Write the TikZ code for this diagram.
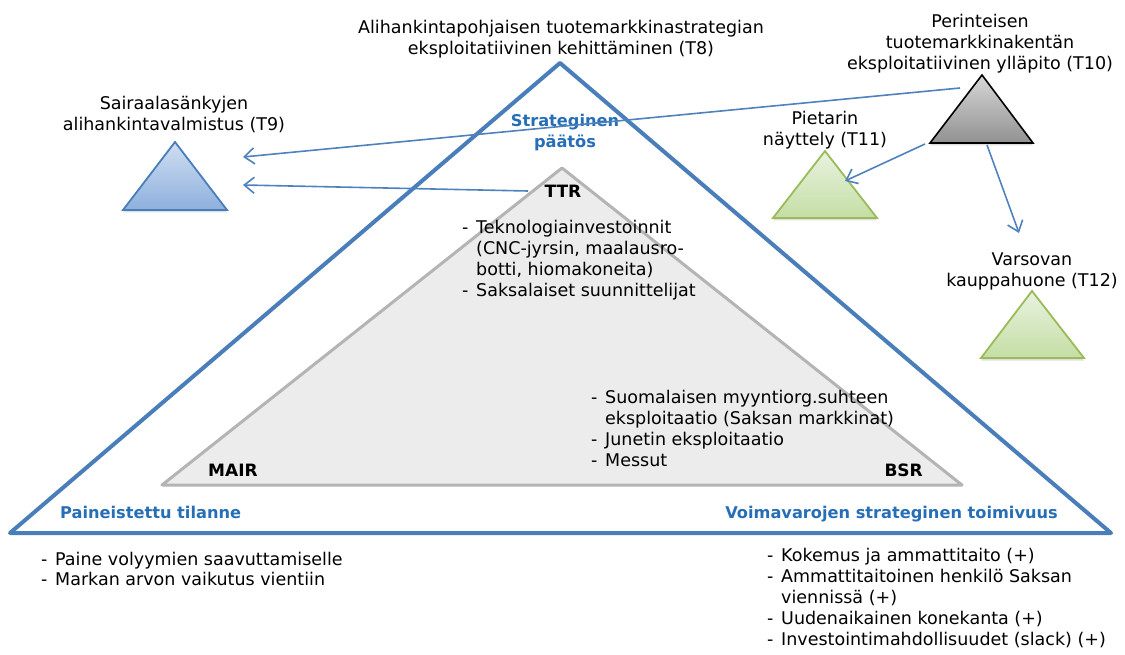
\documentclass[tikz,border=0pt]{standalone}
\usepackage{fontspec}
\setmainfont{DejaVu Sans}
\usetikzlibrary{arrows.meta,shadows}

\definecolor{frameblue}{RGB}{74,126,187}
\definecolor{labelblue}{RGB}{38,110,182}
\definecolor{linkblue}{RGB}{79,129,189}
\definecolor{innerfill}{RGB}{236,236,236}
\definecolor{innerline}{RGB}{180,180,180}
\definecolor{greenline}{RGB}{155,187,89}
\definecolor{greentop}{RGB}{232,242,224}
\definecolor{greenbot}{RGB}{196,222,164}
\definecolor{bluetop}{RGB}{208,222,241}
\definecolor{bluebot}{RGB}{141,176,221}
\definecolor{greytop}{RGB}{215,215,215}
\definecolor{greybot}{RGB}{145,145,145}

% list helpers: dash with hanging indent
\newcommand{\lidash}{\makebox[14pt][l]{-}}
\newcommand{\liskip}{\hspace*{14pt}}

\tikzset{
  bodytext/.style={inner sep=0pt, font=\fontsize{17.5}{21}\selectfont},
  boldtag/.style={inner sep=0pt, font=\fontsize{17}{21}\selectfont\bfseries},
  bluetag/.style={inner sep=0pt, text=labelblue, font=\fontsize{16.2}{21}\selectfont\bfseries},
  listtext/.style={bodytext, align=left, anchor=north west},
  caption/.style={bodytext, align=center, anchor=north},
  link/.style={draw=linkblue, line width=1.6pt, -{Straight Barb[length=10pt,width=16pt,line width=1.6pt]}},
  softshadow/.style={drop shadow={opacity=0.25, shadow xshift=0pt, shadow yshift=-2.5pt}},
  greentri/.style={softshadow, draw=greenline, line width=1.8pt, top color=greentop, bottom color=greenbot},
  bluetri/.style={softshadow, draw=frameblue, line width=1.8pt, top color=bluetop, bottom color=bluebot},
  greytri/.style={softshadow, draw=black, line width=1.6pt, top color=greytop, bottom color=greybot},
}

\begin{document}
\begin{tikzpicture}[x=1pt, y=-1pt]
\useasboundingbox (0,0) rectangle (1125,655);

% outer strategy triangle
\coordinate (OA) at (560,63);
\coordinate (OL) at (10,533);
\coordinate (OR) at (1111,533);
\draw[frameblue, line width=4pt, line join=round] (OA) -- (OR) -- (OL) -- cycle;

% inner resource triangle
\coordinate (IA) at (562,168);
\coordinate (IL) at (162,485);
\coordinate (IR) at (962,485);
\draw[draw=innerline, fill=innerfill, line width=3pt, line join=round] (IA) -- (IR) -- (IL) -- cycle;

% small strategy triangles
\coordinate (T9a) at (175,142);
\coordinate (T9l) at (123,210);
\coordinate (T9r) at (227,210);
\draw[bluetri] (T9a) -- (T9r) -- (T9l) -- cycle;

\coordinate (T10a) at (982,75);
\coordinate (T10l) at (930,143);
\coordinate (T10r) at (1033,143);
\draw[greytri] (T10a) -- (T10r) -- (T10l) -- cycle;

\coordinate (T11a) at (825,151);
\coordinate (T11l) at (773,218);
\coordinate (T11r) at (877,218);
\draw[greentri] (T11a) -- (T11r) -- (T11l) -- cycle;

\coordinate (T12a) at (1032,291);
\coordinate (T12l) at (981,358);
\coordinate (T12r) at (1084,358);
\draw[greentri] (T12a) -- (T12r) -- (T12l) -- cycle;

% captions
\node[caption] (capT8) at (561,19.7) {Alihankintapohjaisen tuotemarkkinastrategian\\eksploitatiivinen kehittäminen (T8)};
\node[caption] (capT9) at (174,95.7) {Sairaalasänkyjen\\alihankintavalmistus (T9)};
\node[caption] (capT10) at (980,13.7) {Perinteisen\\tuotemarkkinakentän\\eksploitatiivinen ylläpito (T10)};
\node[caption] (capT11) at (825,111) {Pietarin\\näyttely (T11)};
\node[caption] (capT12) at (1032,252.2) {Varsovan\\kauppahuone (T12)};

\node[bluetag, align=center, anchor=north] (decision) at (565,113.7) {Strateginen\\päätös};
\node[boldtag, anchor=base] (ttr) at (563,198) {TTR};
\node[boldtag, anchor=base west] (mair) at (208,476) {MAIR};
\node[boldtag, anchor=base east] (bsr) at (923,476) {BSR};
\node[bluetag, anchor=base west] (pressure) at (60,518) {Paineistettu tilanne};
\node[bluetag, anchor=base east] (agility) at (1058,518) {Voimavarojen strateginen toimivuus};

% lists
\node[listtext] (ttrlist) at (462,219.7) {\lidash Teknologiainvestoinnit\\\liskip(CNC-jyrsin, maalausro-\\\liskip botti, hiomakoneita)\\\lidash Saksalaiset suunnittelijat};
\node[listtext] (bsrlist) at (591,389.7) {\lidash Suomalaisen myyntiorg.suhteen\\\liskip eksploitaatio (Saksan markkinat)\\\lidash Junetin eksploitaatio\\\lidash Messut};
\node[listtext, font=\fontsize{17.5}{20}\selectfont] (leftlist) at (41,551.7) {\lidash Paine volyymien saavuttamiselle\\\lidash Markan arvon vaikutus vientiin};
\node[listtext] (rightlist) at (767,547.7) {\lidash Kokemus ja ammattitaito (+)\\\lidash Ammattitaitoinen henkilö Saksan\\\liskip viennissä (+)\\\lidash Uudenaikainen konekanta (+)\\\lidash Investointimahdollisuudet (slack) (+)};

% connectors
\coordinate (fromT10) at (960,88);
\coordinate (toT9top) at (243,157);
\coordinate (fromTTR) at (528,191);
\coordinate (toT9low) at (243,185);
\coordinate (fromT10l) at (925,144);
\coordinate (toT11) at (845,181);
\coordinate (fromT10b) at (987,145);
\coordinate (toT12) at (1019,233);
\draw[link] (fromT10) -- (toT9top);
\draw[link] (fromTTR) -- (toT9low);
\draw[link] (fromT10l) -- (toT11);
\draw[link] (fromT10b) -- (toT12);
\end{tikzpicture}
\end{document}
